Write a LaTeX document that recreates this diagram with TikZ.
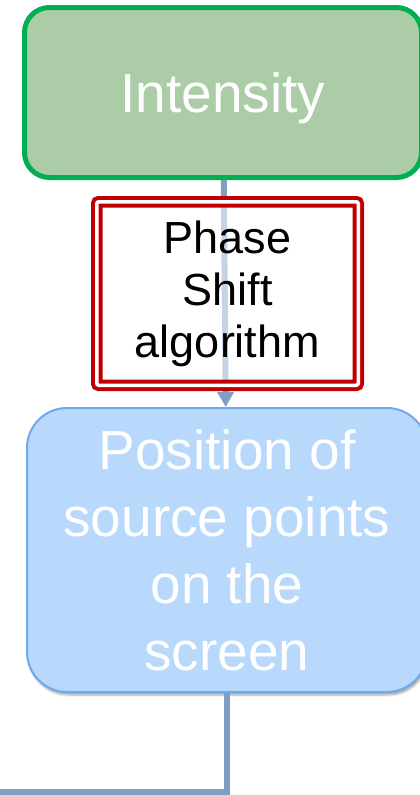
\documentclass[tikz,border=0pt]{standalone}
\usepackage{fontspec}
\setmainfont{Liberation Sans}
\usepackage{xcolor}
\usepackage{tikz}
\usetikzlibrary{arrows.meta}
\usetikzlibrary{shapes}
\usetikzlibrary{shadows.blur}
\definecolor{grfill}{HTML}{ACCCA8}
\definecolor{grline}{HTML}{00B050}
\definecolor{blfill}{HTML}{B8D8FC}
\definecolor{blline}{HTML}{6FA8EC}
\definecolor{lnk}{HTML}{7F9EC4}
\definecolor{dred}{HTML}{C00000}
\tikzset{>=latex}
\tikzstyle{link} = [draw = lnk, line width = 6pt]
\tikzstyle{stage} = [rectangle, inner sep = 0pt, align = center, text = white, font = \fontsize{55}{67}\selectfont]

\begin{document}
\begin{tikzpicture}[x = 1pt, y = -1pt]
\clip (0, 0) rectangle (420, 795);
\node [stage, draw = grline, fill = grfill, line width = 5pt, rounded corners = 25pt, minimum width = 397pt, minimum height = 170pt, text depth = 0pt] (I) at (223, 92.5) {Intensity};
\node [stage, draw = blline, fill = blfill, line width = 2pt, rounded corners = 40pt, minimum width = 400pt, minimum height = 284pt, blur shadow = {shadow xshift = 1.5pt, shadow yshift = -3pt, shadow opacity = 35}] (P) at (227, 550) {Position of\\source points\\on the\\screen};
\coordinate (E) at (0, 792);
\draw [link, -{Triangle[length = 15pt, width = 16pt]}] (I) to (P);
\node [rectangle, draw = dred, double = white, line width = 4pt, double distance = 3.5pt, rounded corners = 2pt, fill = white, fill opacity = 0.55, text opacity = 1, inner sep = 0pt, minimum width = 261.5pt, minimum height = 183.5pt, align = center, font = \fontsize{45}{52}\selectfont] (PS) at (227.5, 293.5) {Phase\\Shift\\algorithm};
\draw [link] (P) |- (E);
\end{tikzpicture}
\end{document}
